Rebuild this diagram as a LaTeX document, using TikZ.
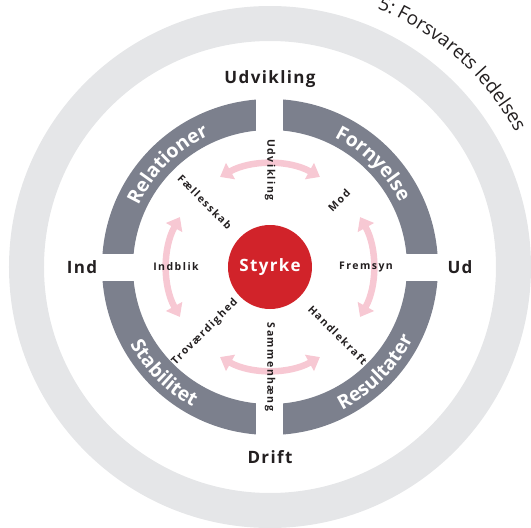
\documentclass[tikz,border=0pt]{standalone}
\usepackage{fontspec}
\setmainfont{Open Sans}
\newfontfamily\spacedfont[LetterSpace=14]{Open Sans}
\newfontfamily\widefont[LetterSpace=8]{Open Sans}
\usetikzlibrary{arrows.meta}
\usetikzlibrary{decorations.text}
\definecolor{ringdark}{HTML}{7C808D}
\definecolor{ringlight}{HTML}{E5E6E8}
\definecolor{redc}{HTML}{D1232A}
\definecolor{pinkc}{HTML}{F7C8D3}
\definecolor{textdark}{HTML}{231F20}
\newcommand{\ringfont}{\fontsize{19.5}{19.5}\selectfont\bfseries}
\newcommand{\outfont}{\fontsize{19}{19}\selectfont}

\begin{document}
\begin{tikzpicture}[x=1pt,y=1pt,
  mainlbl/.style={font=\widefont\fontsize{17}{17}\selectfont\bfseries,text=textdark},
  smalllbl/.style={font=\spacedfont\fontsize{10.5}{10.5}\selectfont\bfseries,text=textdark,inner sep=0pt},
  pinkarr/.style={line width=6.5pt,draw=pinkc,{Triangle[length=12pt,width=18pt]}-{Triangle[length=12pt,width=18pt]}},
  ringtext/.style={decorate,decoration={text along path,text align=center,text color=white,text={|\ringfont|#1}}}]
\clip (-270,-261) rectangle (261,267);
% rings
\draw[ringlight,line width=35pt] (0,0) circle[radius=243.5];
\draw[ringdark,line width=31pt] (0,0) circle[radius=152.5];
\fill[white] (-13.5,-175) rectangle (13.5,175);
\fill[white] (-175,-13.5) rectangle (175,13.5);
% outer caption
\path[decorate,decoration={text along path,text color=textdark,text={|\outfont|5: Forsvarets ledelses}}]
  (67.5:280) arc[start angle=67.5,end angle=5,radius=280];
% ring texts
\path[ringtext=Relationer] (175:145) arc[start angle=175,end angle=95,radius=145];
\path[ringtext=Fornyelse] (85:145) arc[start angle=85,end angle=5,radius=145];
\path[ringtext=Stabilitet] (185:160) arc[start angle=185,end angle=265,radius=160];
\path[ringtext=Resultater] (275:160) arc[start angle=275,end angle=355,radius=160];
% main labels
\node[mainlbl] (udv) at (0,188) {Udvikling};
\node[mainlbl] (drift) at (0,-190) {Drift};
\node[mainlbl] (ind) at (-188,0) {Ind};
\node[mainlbl] (ud) at (190,0) {Ud};
% arrows
\coordinate (t1) at (61:103);
\coordinate (l1) at (151:103);
\coordinate (b1) at (241:103);
\coordinate (r1) at (331:103);
\draw[pinkarr] (t1) arc[start angle=61,end angle=119,radius=103];
\draw[pinkarr] (l1) arc[start angle=151,end angle=209,radius=103];
\draw[pinkarr] (b1) arc[start angle=241,end angle=299,radius=103];
\draw[pinkarr] (r1) arc[start angle=331,end angle=389,radius=103];
% small labels
\node[smalllbl,rotate=-90] (udvs) at (0,97) {Udvikling};
\node[smalllbl,rotate=-90] (samm) at (0,-100) {Sammenhæng};
\node[smalllbl] (indb) at (-94,0) {Indblik};
\node[smalllbl] (frem) at (96,0) {Fremsyn};
\node[smalllbl,rotate=-45] (faell) at (135:92) {Fællesskab};
\node[smalllbl,rotate=45] (mod) at (44:96) {Mod};
\node[smalllbl,rotate=45] (trov) at (225:92) {Troværdighed};
\node[smalllbl,rotate=-45] (handl) at (315:96) {Handlekraft};
% centre
\node[circle,fill=redc,minimum size=84pt,text=white,font=\widefont\fontsize{17}{17}\selectfont\bfseries] (styrke) at (0,0) {Styrke};
\end{tikzpicture}
\end{document}
